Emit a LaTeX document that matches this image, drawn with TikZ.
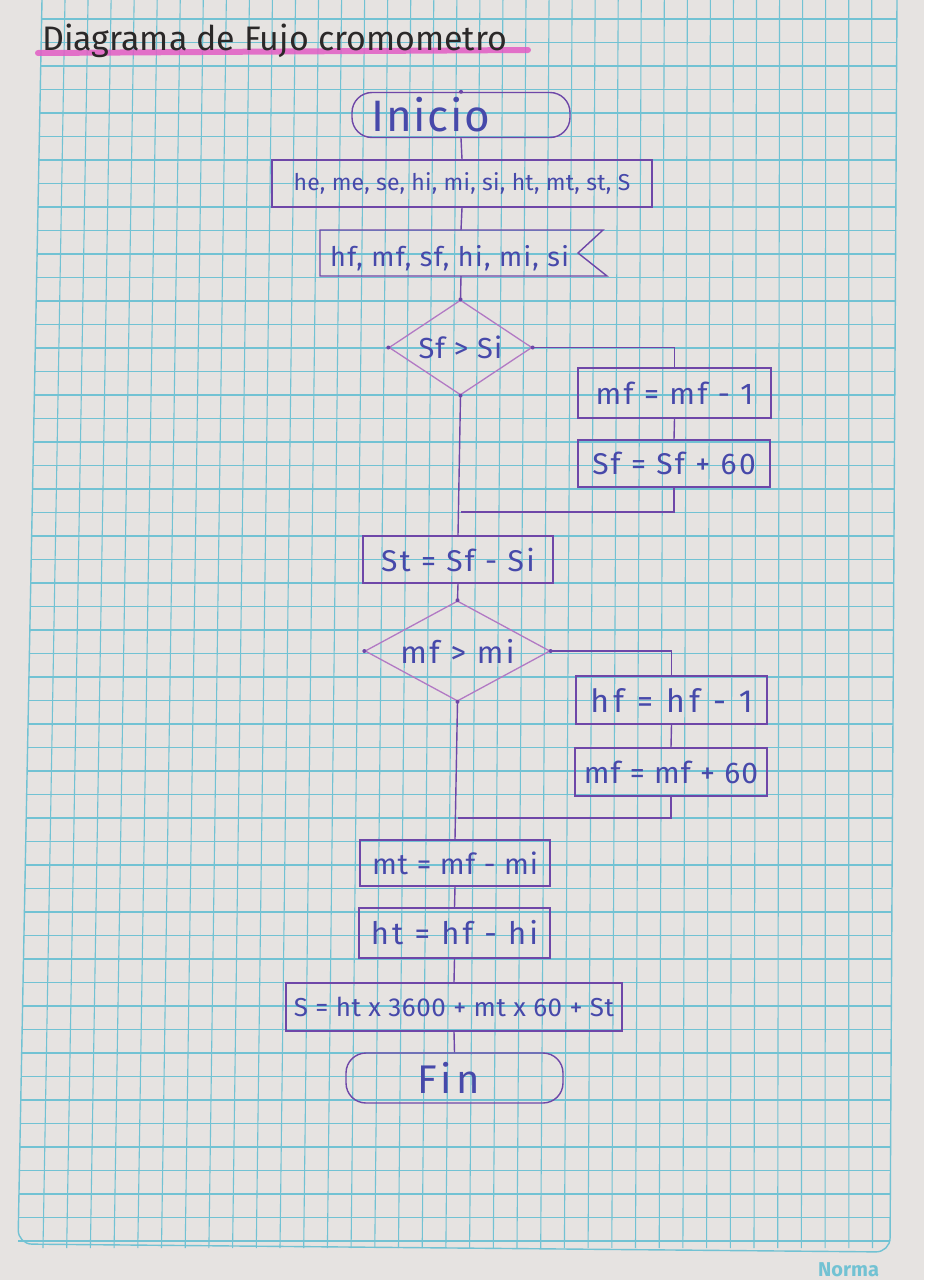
\documentclass[tikz,border=0pt]{standalone}
\usepackage{fontspec}
\setmainfont{Fira Sans}
\usetikzlibrary{shapes.geometric}
\definecolor{paper}{HTML}{E6E3E1}
\definecolor{gridc}{HTML}{72C2D3}
\definecolor{linec}{HTML}{6E47A8}
\definecolor{diac}{HTML}{B279C4}
\definecolor{ink}{HTML}{4749AA}
\definecolor{titleink}{HTML}{2B2828}
\definecolor{hl}{HTML}{E25CC4}
\newcommand{\fs}[2]{\fontsize{#1}{#1}\selectfont\addfontfeature{LetterSpace=#2}}
\tikzset{
  gridline/.style={draw=gridc, line width=1.1pt},
  conn/.style={draw=linec, line width=1.4pt},
  boxtxt/.style={text=ink, font=\fs{28}{6}, inner sep=0pt},
  procbox/.style={boxtxt, draw=linec, line width=1.4pt, rectangle},
  termbox/.style={boxtxt, draw=linec, line width=1.4pt, rectangle, rounded corners=20pt},
  decbox/.style={boxtxt, draw=diac, line width=1.3pt, diamond, shape aspect=1.5},
  vdot/.style={fill=linec, circle, inner sep=0pt, minimum size=4pt}
}
\begin{document}
\begin{tikzpicture}[x=1pt,y=-1pt]
\useasboundingbox (0,0) rectangle (924,1280);
% paper
\fill[paper] (0,0) rectangle (924,1280);
% grid (slight perspective: left border leans)
\foreach \k in {0,...,35} {
  \pgfmathsetmacro{\xt}{65+23.05*\k}
  \pgfmathsetmacro{\xb}{43+23.7*\k}
  \draw[gridline] (\xt,0) -- (\xb,1248);
}
\foreach \k in {0,...,52} {
  \pgfmathsetmacro{\yy}{19+23.5*\k}
  \pgfmathsetmacro{\xl}{42-0.0193*\yy}
  \pgfmathsetmacro{\xr}{897-0.0056*\yy}
  \draw[gridline] (\xl,\yy) -- (\xr,\yy);
}
\draw[gridline, line width=1.4pt, rounded corners=14pt] (42,0) -- (18,1244) -- (890,1252) -- (897,0);
\node[text=gridc, font=\bfseries\fontsize{20}{22}\selectfont, anchor=base west, inner sep=0pt] (logo) at (818,1276) {Norma};

% title
\draw[hl, line width=6pt, line cap=round, opacity=0.85] (38,53) -- (528,50);
\node[text=titleink, font=\fontsize{34}{40}\selectfont, anchor=base west, inner sep=0pt] (title) at (42,50) {Diagrama de Fujo cromometro};

% nodes
\node[termbox, minimum width=218pt, minimum height=45pt, font=\fs{44}{4}] (inicio) at (461,115) {Inicio\hspace*{60pt}};
\node[procbox, minimum width=380pt, minimum height=47pt, font=\fs{23}{1}] (decl) at (462,183.5) {he, me, se, hi, mi, si, ht, mt, st, S};
\coordinate (inpN) at (461,230);
\coordinate (inpS) at (461,276);
\node[boxtxt, anchor=west, font=\fs{27}{5}] (inptxt) at (330,258) {hf, mf, sf, hi, mi, si};
\draw[conn] (320,230) -- (603,230) -- (578,253) -- (607,276) -- (320,276) -- cycle;
\node[decbox, minimum width=143pt, minimum height=95pt, font=\fs{29}{4}] (d1) at (460.5,347.5) {Sf > Si};
\node[procbox, minimum width=193pt, minimum height=50pt, font=\fs{30}{8}] (b1) at (674.5,393) {mf = mf - 1};
\node[procbox, minimum width=192pt, minimum height=47pt, font=\fs{30}{8}] (b2) at (674,463.5) {Sf = Sf + 60};
\node[procbox, minimum width=190pt, minimum height=47pt, font=\fs{30}{8}] (st) at (458,559.5) {St = Sf - Si};
\node[decbox, minimum width=185pt, minimum height=92pt, font=\fs{31}{8}] (d2) at (457.5,651) {mf > mi};
\node[procbox, minimum width=191pt, minimum height=48pt, font=\fs{32}{14}] (b3) at (671.5,700) {hf = hf - 1};
\node[procbox, minimum width=192pt, minimum height=48pt, font=\fs{30}{4}] (b4) at (671,772) {mf = mf + 60};
\node[procbox, minimum width=190pt, minimum height=46pt, font=\fs{29}{3}] (mt) at (455,863) {mt = mf - mi};
\node[procbox, minimum width=191pt, minimum height=50pt, font=\fs{31}{10}] (ht) at (454.5,933) {ht = hf - hi};
\node[procbox, minimum width=336pt, minimum height=48pt, font=\fs{26}{2}] (S) at (454,1007) {S = ht x 3600 + mt x 60 + St};
\node[termbox, minimum width=217pt, minimum height=50pt, font=\fs{40}{12}] (fin) at (454.5,1078) {Fin\hspace*{12pt}};

% connectors
\draw[conn] (inicio.south) -- (decl.north);
\draw[conn] (decl.south) -- (inpN);
\draw[conn] (inpS) -- (d1.north);
\draw[conn] (d1.east) -| (b1.north);
\draw[conn] (b1.south) -- (b2.north);
\coordinate (m1) at (d1.south |- 0,512);
\draw[conn] (b2.south) |- (m1);
\draw[conn] (d1.south) -- (st.north);
\draw[conn] (st.south) -- (d2.north);
\draw[conn] (d2.east) -| (b3.north);
\draw[conn] (b3.south) -- (b4.north);
\coordinate (m2) at (d2.south |- 0,818);
\draw[conn] (b4.south) |- (m2);
\draw[conn] (d2.south) -- (mt.north);
\draw[conn] (mt.south) -- (ht.north);
\draw[conn] (ht.south) -- (S.north);
\draw[conn] (S.south) -- (fin.north);

% vertex dots
\foreach \n in {d1,d2} {
  \foreach \a in {north,south,east,west} {
    \node[vdot] at (\n.\a) {};
  }
}
\node[vdot] at (inicio.north) {};
\end{tikzpicture}
\end{document}
